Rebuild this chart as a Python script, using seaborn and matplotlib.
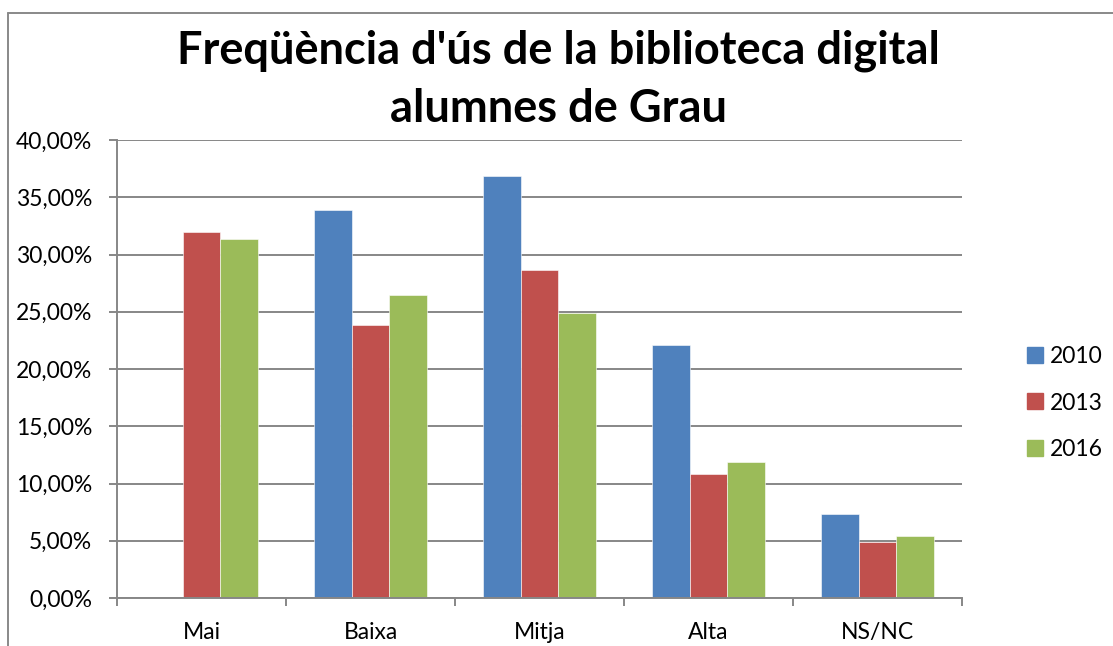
import numpy as np
import pandas as pd
import seaborn as sns
import matplotlib
matplotlib.use("Agg")
import matplotlib.pyplot as plt
from matplotlib.lines import Line2D
from matplotlib.ticker import FuncFormatter, MultipleLocator, FixedLocator

# Usage frequency categories and yearly shares (percent of students)
categories = ["Mai", "Baixa", "Mitja", "Alta", "NS/NC"]
years = ["2010", "2013", "2016"]
values_2010 = [np.nan, 33.85, 36.83, 22.10, 7.37]
values_2013 = [31.95, 23.80, 28.67, 10.80, 4.90]
values_2016 = [31.35, 26.50, 24.85, 11.90, 5.40]
colors = ["#4F81BD", "#C0504D", "#9BBB59"]

title_line1 = "Freqüència d'ús de la biblioteca digital"
title_line2 = "alumnes de Grau"

df = pd.DataFrame({
    "categoria": categories * 3,
    "any": [y for y in years for _ in categories],
    "valor": values_2010 + values_2013 + values_2016,
})

sns.set_theme(style="white")
plt.rcParams["font.family"] = ["Lato", "DejaVu Sans"]
plt.rcParams["text.color"] = "black"

fig = plt.figure(figsize=(11.13, 6.46), dpi=100)
ax = fig.add_axes([117 / 1113, 48 / 646, 845 / 1113, 458 / 646])

sns.barplot(data=df, x="categoria", y="valor", hue="any", order=categories,
            hue_order=years, palette=colors, width=0.67, gap=0,
            saturation=1, ax=ax, legend=False, errorbar=None,
            edgecolor="white", linewidth=0.4)

grid_col = "#878787"
ax.set_ylim(0, 40)
ax.set_xlim(-0.5, 4.5)
ax.yaxis.set_major_locator(MultipleLocator(5))
ax.yaxis.set_major_formatter(FuncFormatter(lambda v, p: f"{v:.2f}".replace(".", ",") + "%"))
ax.set_axisbelow(True)
ax.grid(axis="y", color=grid_col, linewidth=1.4)
ax.grid(axis="x", visible=False)

for s in ["top", "right"]:
    ax.spines[s].set_visible(False)
for s in ["left", "bottom"]:
    ax.spines[s].set_color(grid_col)
    ax.spines[s].set_linewidth(1.4)

ax.xaxis.set_minor_locator(FixedLocator(np.arange(-0.5, 5.0, 1.0)))
ax.tick_params(axis="x", which="major", length=0, pad=17, labelsize=16.5, labelcolor="black")
ax.tick_params(axis="x", which="minor", length=6, width=1.4, color=grid_col, direction="out", bottom=True)
ax.tick_params(axis="y", which="major", length=6, width=1.4, color=grid_col, direction="out",
               left=True, pad=12, labelsize=16.5, labelcolor="black")
ax.set_xlabel("")
ax.set_ylabel("")

handles = [Line2D([0], [0], marker="s", linestyle="none", markersize=11,
                  markerfacecolor=c, markeredgecolor=c) for c in colors]
fig.legend(handles, years, loc="center left", bbox_to_anchor=(1003 / 1113, 1 - 403 / 646),
           frameon=False, fontsize=16.5, handletextpad=0.15, labelspacing=1.1,
           handlelength=1.0, labelcolor="black")

fig.text(0.502, 1 - 63 / 646, title_line1, ha="center", va="baseline",
         fontsize=32.5, fontweight="bold", color="black")
fig.text(0.502, 1 - 122 / 646, title_line2, ha="center", va="baseline",
         fontsize=32.5, fontweight="bold", color="black")

# chart frame edges
fig.add_artist(Line2D([8 / 1113, 8 / 1113], [0, 1 - 13 / 646], transform=fig.transFigure,
                      color="#898989", linewidth=1.4))
fig.add_artist(Line2D([8 / 1113, 1], [1 - 13 / 646, 1 - 13 / 646], transform=fig.transFigure,
                      color="#898989", linewidth=1.4))

fig.savefig("out.png", dpi=100)
